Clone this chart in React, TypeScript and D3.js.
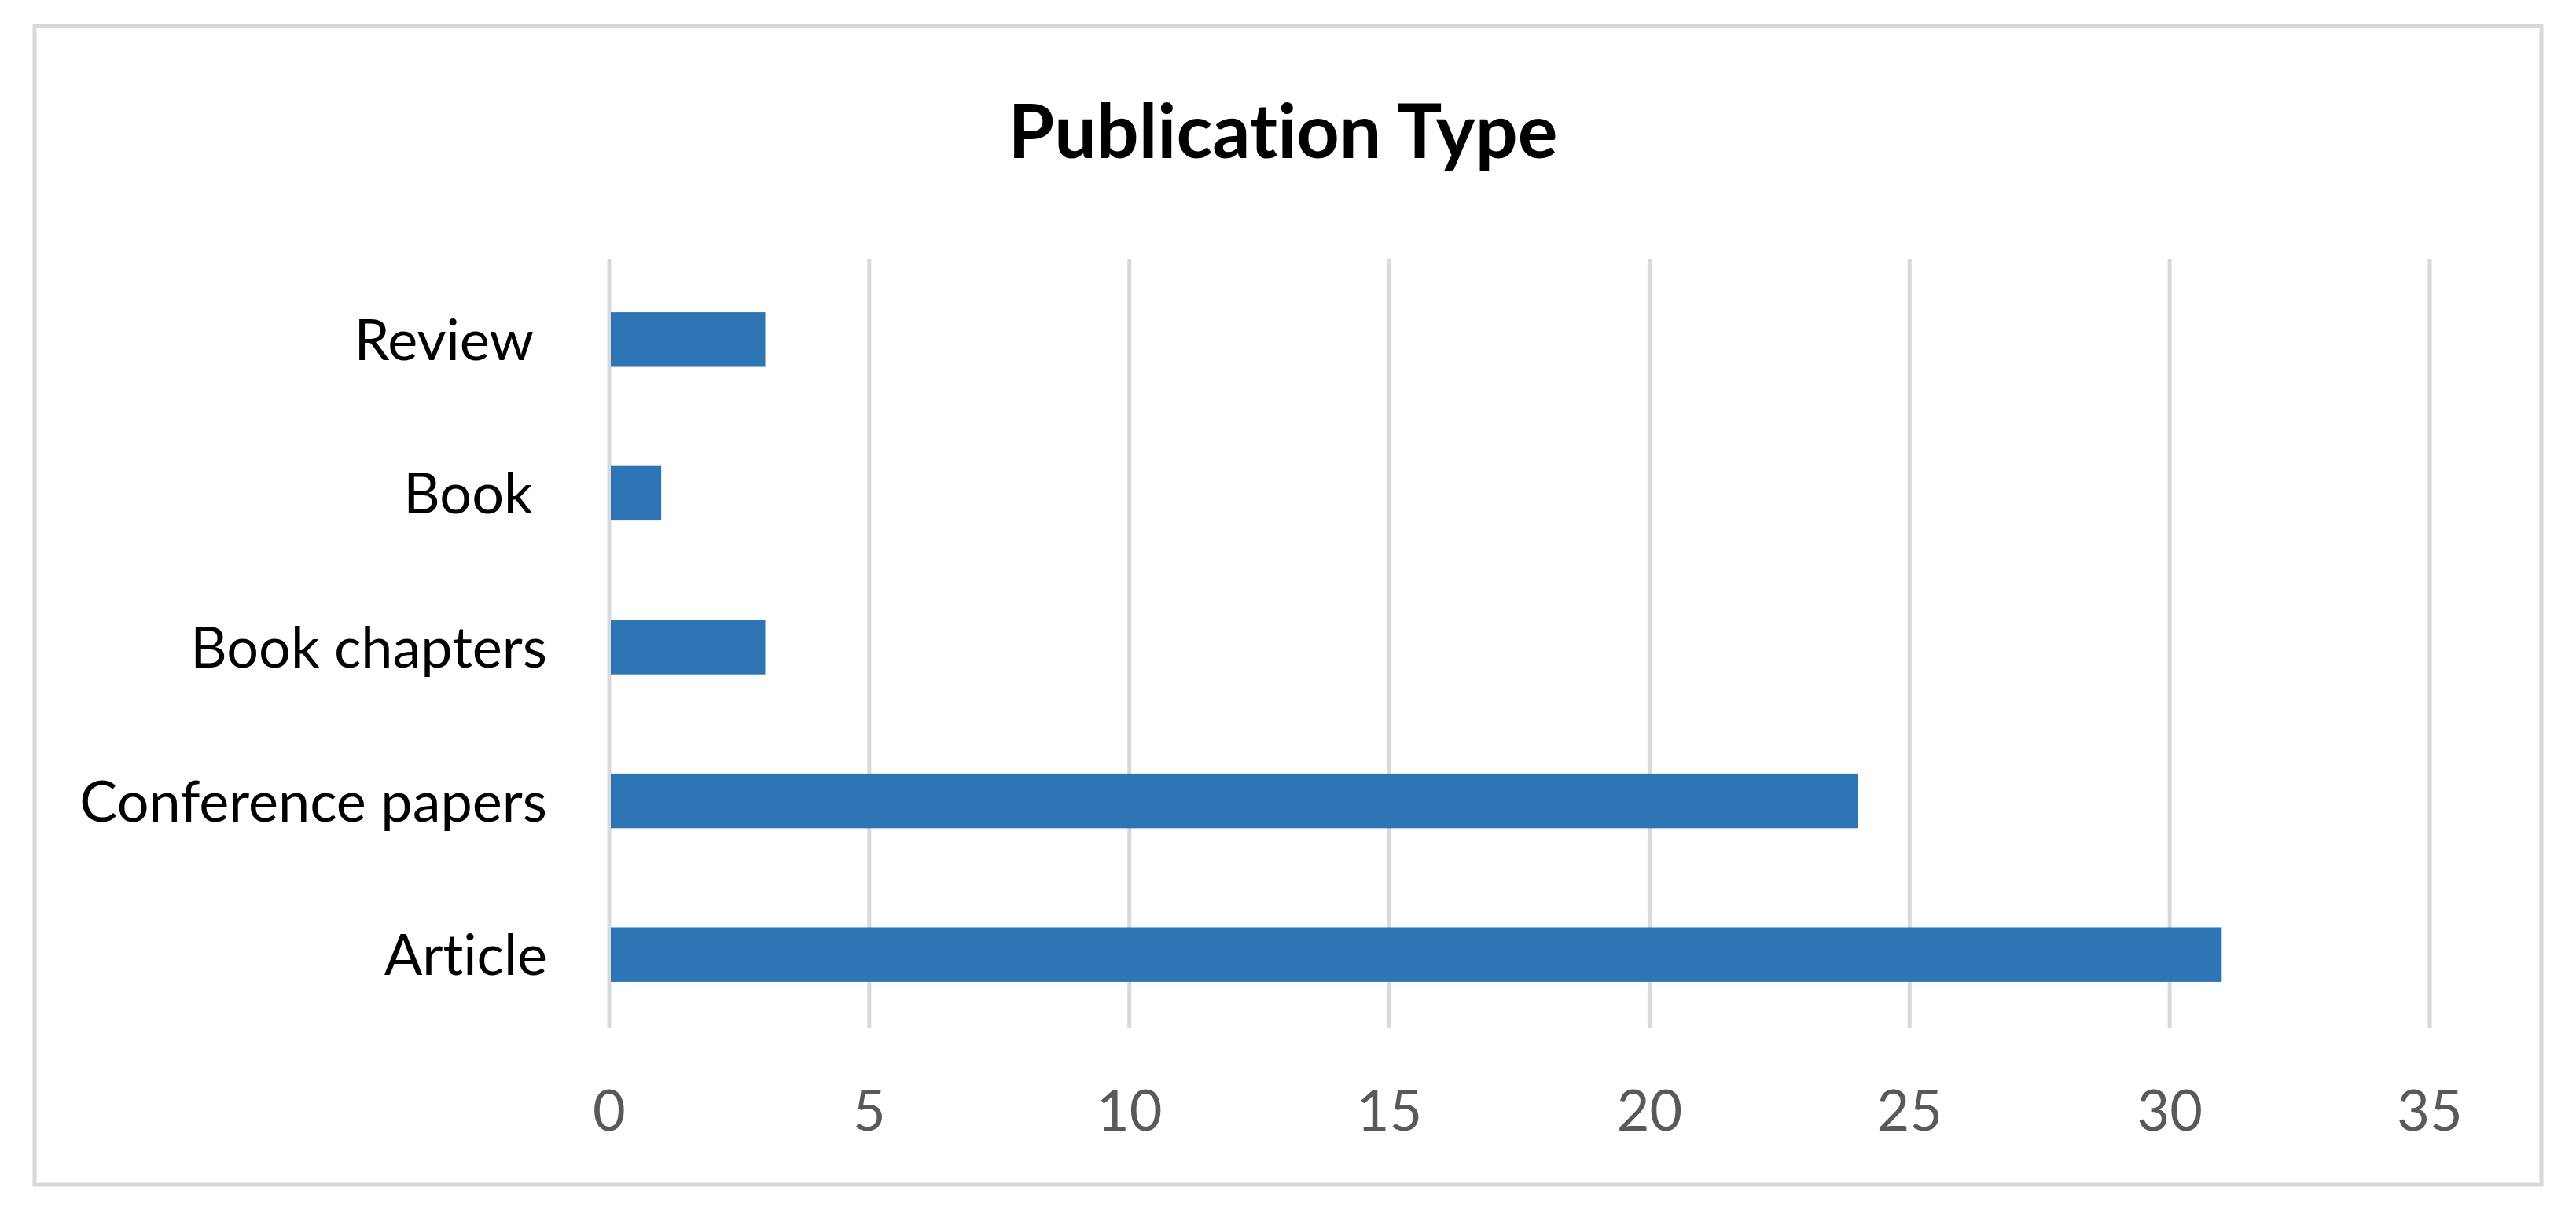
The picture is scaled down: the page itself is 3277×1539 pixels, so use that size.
import React, { useRef, useEffect } from "react";
import * as d3 from "d3";

// chart data
const categories = ["Review ", "Book ", "Book chapters", "Conference papers", "Article"];
const counts = [3, 1, 3, 24, 31];
const xTicks = [0, 5, 10, 15, 20, 25, 30, 35];
const title = "Publication Type";

const W = 3277;
const H = 1539;

const App = () => {
  const svgRef = useRef<SVGSVGElement>(null);

  useEffect(() => {
    document.body.style.margin = "0";
    const svg = d3.select(svgRef.current);
    svg.selectAll("*").remove();

    const font = "Lato, 'Noto Sans', sans-serif";
    const plot = { left: 775, right: 3091, top: 334, bottom: 1312 };

    // background + outer border
    svg.append("rect").attr("width", W).attr("height", H).attr("fill", "#ffffff");
    svg
      .append("rect")
      .attr("x", 44)
      .attr("y", 33)
      .attr("width", 3189)
      .attr("height", 1474)
      .attr("fill", "#ffffff")
      .attr("stroke", "#d9d9d9")
      .attr("stroke-width", 5);

    const x = d3.scaleLinear().domain([0, 35]).range([plot.left, plot.right]);
    const y = d3
      .scaleBand()
      .domain(categories)
      .range([plot.top, plot.bottom])
      .paddingInner(0.645)
      .paddingOuter(0.3225);

    // vertical gridlines
    svg
      .append("g")
      .selectAll("line")
      .data(xTicks)
      .join("line")
      .attr("x1", d => x(d))
      .attr("x2", d => x(d))
      .attr("y1", plot.top - 4)
      .attr("y2", plot.bottom - 4)
      .attr("stroke", "#d9d9d9")
      .attr("stroke-width", 5);

    // bars
    svg
      .append("g")
      .selectAll("rect")
      .data(categories)
      .join("rect")
      .attr("x", x(0) + 2)
      .attr("y", d => y(d)!)
      .attr("width", (d, i) => x(counts[i]) - x(0) - 2)
      .attr("height", y.bandwidth())
      .attr("fill", "#2e75b6");

    // category labels
    svg
      .append("g")
      .selectAll("text")
      .data(categories)
      .join("text")
      .attr("x", 696)
      .attr("y", d => y(d)! + y.bandwidth() / 2 + 26)
      .attr("text-anchor", "end")
      .style("white-space", "pre")
      .style("font-variant-ligatures", "none")
      .attr("font-family", font)
      .attr("font-size", 72)
      .attr("fill", "#000000")
      .text(d => d);

    // x tick labels
    svg
      .append("g")
      .selectAll("text")
      .data(xTicks)
      .join("text")
      .attr("x", d => x(d))
      .attr("y", 1438)
      .attr("text-anchor", "middle")
      .attr("font-family", font)
      .attr("font-size", 72)
      .attr("fill", "#595959")
      .text(d => d);

    // title
    svg
      .append("text")
      .attr("x", 1632)
      .attr("y", 201)
      .attr("text-anchor", "middle")
      .style("font-variant-ligatures", "none")
      .attr("font-family", font)
      .attr("font-weight", "bold")
      .attr("font-size", 95)
      .attr("fill", "#000000")
      .text(title);
  }, []);

  return <svg ref={svgRef} width={W} height={H} style={{ display: "block" }}></svg>;
};

export default App;
